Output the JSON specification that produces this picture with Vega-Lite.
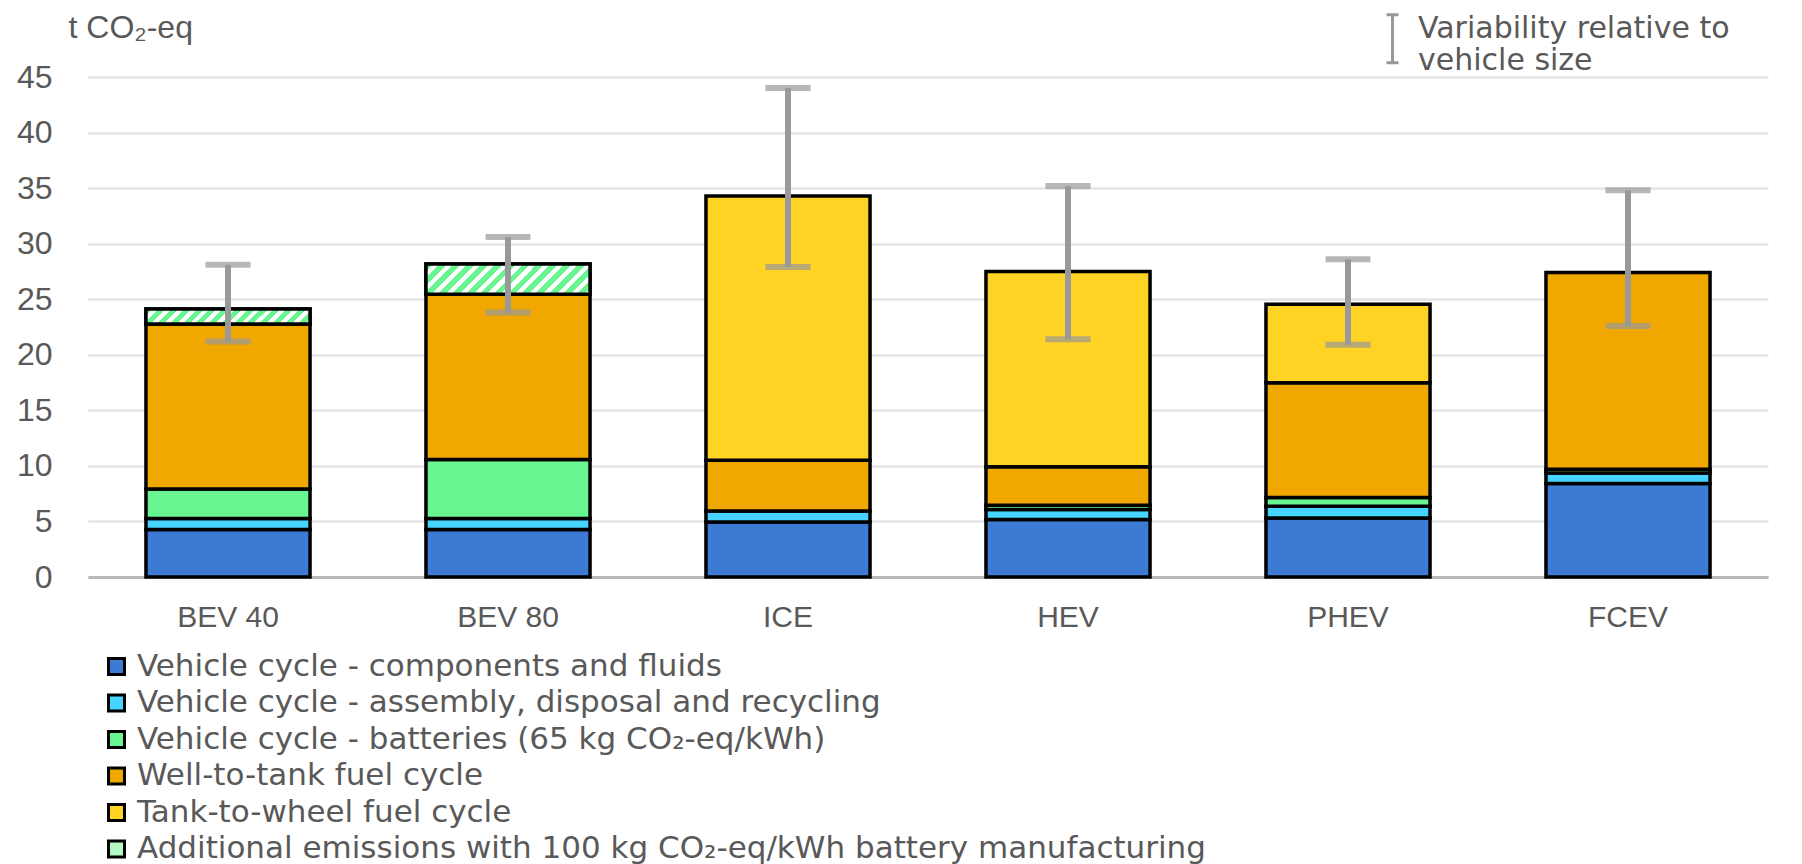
{
  "$schema": "https://vega.github.io/schema/vega-lite/v6.json",
  "width": 1680,
  "height": 500,
  "autosize": {"type": "none"},
  "padding": {"left": 88, "top": 77, "right": 34, "bottom": 287},
  "background": "#ffffff",
  "config": {
    "view": {"stroke": null},
    "font": "Liberation Sans"
  },
  "datasets": {
    "segments": [
      {"vehicle": "BEV 40", "component": "Vehicle cycle - components and fluids", "order": 1, "value": 4.27},
      {"vehicle": "BEV 40", "component": "Vehicle cycle - assembly, disposal and recycling", "order": 2, "value": 0.99},
      {"vehicle": "BEV 40", "component": "Vehicle cycle - batteries (65 kg CO₂-eq/kWh)", "order": 3, "value": 2.67},
      {"vehicle": "BEV 40", "component": "Well-to-tank fuel cycle", "order": 4, "value": 14.85},
      {"vehicle": "BEV 40", "component": "Additional emissions with 100 kg CO₂-eq/kWh battery manufacturing", "order": 6, "value": 1.35},
      {"vehicle": "BEV 80", "component": "Vehicle cycle - components and fluids", "order": 1, "value": 4.27},
      {"vehicle": "BEV 80", "component": "Vehicle cycle - assembly, disposal and recycling", "order": 2, "value": 0.99},
      {"vehicle": "BEV 80", "component": "Vehicle cycle - batteries (65 kg CO₂-eq/kWh)", "order": 3, "value": 5.32},
      {"vehicle": "BEV 80", "component": "Well-to-tank fuel cycle", "order": 4, "value": 14.87},
      {"vehicle": "BEV 80", "component": "Additional emissions with 100 kg CO₂-eq/kWh battery manufacturing", "order": 6, "value": 2.71},
      {"vehicle": "ICE", "component": "Vehicle cycle - components and fluids", "order": 1, "value": 4.96},
      {"vehicle": "ICE", "component": "Vehicle cycle - assembly, disposal and recycling", "order": 2, "value": 0.99},
      {"vehicle": "ICE", "component": "Well-to-tank fuel cycle", "order": 4, "value": 4.55},
      {"vehicle": "ICE", "component": "Tank-to-wheel fuel cycle", "order": 5, "value": 23.8},
      {"vehicle": "HEV", "component": "Vehicle cycle - components and fluids", "order": 1, "value": 5.17},
      {"vehicle": "HEV", "component": "Vehicle cycle - assembly, disposal and recycling", "order": 2, "value": 0.9},
      {"vehicle": "HEV", "component": "Vehicle cycle - batteries (65 kg CO₂-eq/kWh)", "order": 3, "value": 0.39},
      {"vehicle": "HEV", "component": "Well-to-tank fuel cycle", "order": 4, "value": 3.46},
      {"vehicle": "HEV", "component": "Tank-to-wheel fuel cycle", "order": 5, "value": 17.58},
      {"vehicle": "PHEV", "component": "Vehicle cycle - components and fluids", "order": 1, "value": 5.32},
      {"vehicle": "PHEV", "component": "Vehicle cycle - assembly, disposal and recycling", "order": 2, "value": 1.05},
      {"vehicle": "PHEV", "component": "Vehicle cycle - batteries (65 kg CO₂-eq/kWh)", "order": 3, "value": 0.78},
      {"vehicle": "PHEV", "component": "Well-to-tank fuel cycle", "order": 4, "value": 10.34},
      {"vehicle": "PHEV", "component": "Tank-to-wheel fuel cycle", "order": 5, "value": 7.06},
      {"vehicle": "FCEV", "component": "Vehicle cycle - components and fluids", "order": 1, "value": 8.41},
      {"vehicle": "FCEV", "component": "Vehicle cycle - assembly, disposal and recycling", "order": 2, "value": 0.96},
      {"vehicle": "FCEV", "component": "Vehicle cycle - batteries (65 kg CO₂-eq/kWh)", "order": 3, "value": 0.33},
      {"vehicle": "FCEV", "component": "Well-to-tank fuel cycle", "order": 4, "value": 17.7}
    ],
    "errors": [
      {"vehicle": "BEV 40", "low": 21.2, "high": 28.1},
      {"vehicle": "BEV 80", "low": 23.8, "high": 30.6},
      {"vehicle": "ICE", "low": 27.9, "high": 44.0},
      {"vehicle": "HEV", "low": 21.4, "high": 35.2},
      {"vehicle": "PHEV", "low": 20.9, "high": 28.6},
      {"vehicle": "FCEV", "low": 22.6, "high": 34.8}
    ]
  },
  "layer": [
    {
      "data": {"name": "segments"},
      "transform": [
        {"stack": "value", "groupby": ["vehicle"], "sort": [{"field": "order", "order": "ascending"}], "as": ["y0", "y1"]}
      ],
      "mark": {"type": "bar", "stroke": "#000000", "strokeWidth": 3.5},
      "encoding": {
        "x": {
          "field": "vehicle", "type": "nominal",
          "sort": ["BEV 40", "BEV 80", "ICE", "HEV", "PHEV", "FCEV"],
          "scale": {"domain": ["BEV 40", "BEV 80", "ICE", "HEV", "PHEV", "FCEV"], "paddingInner": 0.414, "paddingOuter": 0.207},
          "axis": {
            "title": null, "labelAngle": 0, "ticks": false, "tickSize": 0,
            "labelPadding": 40, "labelBaseline": "middle",
            "labelFont": "Liberation Sans Narrow, Liberation Sans", "labelFontSize": 30, "labelColor": "#595959",
            "domainColor": "#b8b8b8", "domainWidth": 3, "grid": false
          }
        },
        "y": {
          "field": "y0", "type": "quantitative",
          "scale": {"domain": [0, 45], "nice": false},
          "axis": {
            "values": [0, 5, 10, 15, 20, 25, 30, 35, 40, 45],
            "domain": false, "ticks": false, "tickSize": 0, "labelPadding": 36,
            "labelFont": "Liberation Sans", "labelFontSize": 32, "labelColor": "#595959",
            "gridColor": "#e4e4e4", "gridWidth": 2.5,
            "title": "t CO₂-eq", "titleAngle": 0, "titleAlign": "left", "titleBaseline": "alphabetic",
            "titleX": -20, "titleY": -40, "titleFont": "Liberation Sans", "titleFontSize": 32,
            "titleFontWeight": "normal", "titleColor": "#595959"
          }
        },
        "y2": {"field": "y1"},
        "color": {
          "field": "component", "type": "nominal",
          "scale": {
            "domain": [
              "Vehicle cycle - components and fluids",
              "Vehicle cycle - assembly, disposal and recycling",
              "Vehicle cycle - batteries (65 kg CO₂-eq/kWh)",
              "Well-to-tank fuel cycle",
              "Tank-to-wheel fuel cycle",
              "Additional emissions with 100 kg CO₂-eq/kWh battery manufacturing"
            ],
            "range": ["#3D7AD4", "#47D3FF", "#6AF593", "#F0A800", "#FFD324", "#B2F9C6"]
          },
          "legend": {
            "title": null, "orient": "none", "legendX": 13, "legendY": 574, "padding": 0,
            "direction": "vertical", "symbolType": "square", "symbolSize": 256,
            "symbolStrokeColor": "#000000", "symbolStrokeWidth": 3, "symbolOpacity": 1,
            "labelFont": "DejaVu Sans", "labelFontSize": 31, "labelColor": "#595959",
            "labelOffset": 5, "labelLimit": 2000, "rowPadding": 4.5
          }
        }
      }
    },
    {
      "data": {"name": "segments"},
      "transform": [
        {"stack": "value", "groupby": ["vehicle"], "sort": [{"field": "order", "order": "ascending"}], "as": ["y0", "y1"]},
        {"filter": "datum.order == 6 && datum.vehicle == 'BEV 40'"}
      ],
      "mark": {
        "type": "bar", "stroke": "#000000", "strokeWidth": 3.5,
        "fill": {
          "gradient": "linear", "x1": 0, "y1": 0, "x2": 1.0824, "y2": 0.099,
          "stops": [
            {"offset": 0, "color": "#6AF593"}, {"offset": 0.0393, "color": "#6AF593"}, {"offset": 0.0393, "color": "#ffffff"}, {"offset": 0.0714, "color": "#ffffff"},
            {"offset": 0.0714, "color": "#6AF593"}, {"offset": 0.1107, "color": "#6AF593"}, {"offset": 0.1107, "color": "#ffffff"}, {"offset": 0.1429, "color": "#ffffff"},
            {"offset": 0.1429, "color": "#6AF593"}, {"offset": 0.1821, "color": "#6AF593"}, {"offset": 0.1821, "color": "#ffffff"}, {"offset": 0.2143, "color": "#ffffff"},
            {"offset": 0.2143, "color": "#6AF593"}, {"offset": 0.2536, "color": "#6AF593"}, {"offset": 0.2536, "color": "#ffffff"}, {"offset": 0.2857, "color": "#ffffff"},
            {"offset": 0.2857, "color": "#6AF593"}, {"offset": 0.325, "color": "#6AF593"}, {"offset": 0.325, "color": "#ffffff"}, {"offset": 0.3571, "color": "#ffffff"},
            {"offset": 0.3571, "color": "#6AF593"}, {"offset": 0.3964, "color": "#6AF593"}, {"offset": 0.3964, "color": "#ffffff"}, {"offset": 0.4286, "color": "#ffffff"},
            {"offset": 0.4286, "color": "#6AF593"}, {"offset": 0.4679, "color": "#6AF593"}, {"offset": 0.4679, "color": "#ffffff"}, {"offset": 0.5, "color": "#ffffff"},
            {"offset": 0.5, "color": "#6AF593"}, {"offset": 0.5393, "color": "#6AF593"}, {"offset": 0.5393, "color": "#ffffff"}, {"offset": 0.5714, "color": "#ffffff"},
            {"offset": 0.5714, "color": "#6AF593"}, {"offset": 0.6107, "color": "#6AF593"}, {"offset": 0.6107, "color": "#ffffff"}, {"offset": 0.6429, "color": "#ffffff"},
            {"offset": 0.6429, "color": "#6AF593"}, {"offset": 0.6821, "color": "#6AF593"}, {"offset": 0.6821, "color": "#ffffff"}, {"offset": 0.7143, "color": "#ffffff"},
            {"offset": 0.7143, "color": "#6AF593"}, {"offset": 0.7536, "color": "#6AF593"}, {"offset": 0.7536, "color": "#ffffff"}, {"offset": 0.7857, "color": "#ffffff"},
            {"offset": 0.7857, "color": "#6AF593"}, {"offset": 0.825, "color": "#6AF593"}, {"offset": 0.825, "color": "#ffffff"}, {"offset": 0.8571, "color": "#ffffff"},
            {"offset": 0.8571, "color": "#6AF593"}, {"offset": 0.8964, "color": "#6AF593"}, {"offset": 0.8964, "color": "#ffffff"}, {"offset": 0.9286, "color": "#ffffff"},
            {"offset": 0.9286, "color": "#6AF593"}, {"offset": 0.9679, "color": "#6AF593"}, {"offset": 0.9679, "color": "#ffffff"}, {"offset": 1, "color": "#ffffff"}
          ]
        }
      },
      "encoding": {
        "x": {"field": "vehicle", "type": "nominal", "sort": ["BEV 40", "BEV 80", "ICE", "HEV", "PHEV", "FCEV"]},
        "y": {"field": "y0", "type": "quantitative"},
        "y2": {"field": "y1"}
      }
    },
    {
      "data": {"name": "segments"},
      "transform": [
        {"stack": "value", "groupby": ["vehicle"], "sort": [{"field": "order", "order": "ascending"}], "as": ["y0", "y1"]},
        {"filter": "datum.order == 6 && datum.vehicle == 'BEV 80'"}
      ],
      "mark": {
        "type": "bar", "stroke": "#000000", "strokeWidth": 3.5,
        "fill": {
          "gradient": "linear", "x1": 0, "y1": 0, "x2": 1.1447, "y2": 0.2095,
          "stops": [
            {"offset": 0, "color": "#6AF593"}, {"offset": 0.0393, "color": "#6AF593"}, {"offset": 0.0393, "color": "#ffffff"}, {"offset": 0.0714, "color": "#ffffff"},
            {"offset": 0.0714, "color": "#6AF593"}, {"offset": 0.1107, "color": "#6AF593"}, {"offset": 0.1107, "color": "#ffffff"}, {"offset": 0.1429, "color": "#ffffff"},
            {"offset": 0.1429, "color": "#6AF593"}, {"offset": 0.1821, "color": "#6AF593"}, {"offset": 0.1821, "color": "#ffffff"}, {"offset": 0.2143, "color": "#ffffff"},
            {"offset": 0.2143, "color": "#6AF593"}, {"offset": 0.2536, "color": "#6AF593"}, {"offset": 0.2536, "color": "#ffffff"}, {"offset": 0.2857, "color": "#ffffff"},
            {"offset": 0.2857, "color": "#6AF593"}, {"offset": 0.325, "color": "#6AF593"}, {"offset": 0.325, "color": "#ffffff"}, {"offset": 0.3571, "color": "#ffffff"},
            {"offset": 0.3571, "color": "#6AF593"}, {"offset": 0.3964, "color": "#6AF593"}, {"offset": 0.3964, "color": "#ffffff"}, {"offset": 0.4286, "color": "#ffffff"},
            {"offset": 0.4286, "color": "#6AF593"}, {"offset": 0.4679, "color": "#6AF593"}, {"offset": 0.4679, "color": "#ffffff"}, {"offset": 0.5, "color": "#ffffff"},
            {"offset": 0.5, "color": "#6AF593"}, {"offset": 0.5393, "color": "#6AF593"}, {"offset": 0.5393, "color": "#ffffff"}, {"offset": 0.5714, "color": "#ffffff"},
            {"offset": 0.5714, "color": "#6AF593"}, {"offset": 0.6107, "color": "#6AF593"}, {"offset": 0.6107, "color": "#ffffff"}, {"offset": 0.6429, "color": "#ffffff"},
            {"offset": 0.6429, "color": "#6AF593"}, {"offset": 0.6821, "color": "#6AF593"}, {"offset": 0.6821, "color": "#ffffff"}, {"offset": 0.7143, "color": "#ffffff"},
            {"offset": 0.7143, "color": "#6AF593"}, {"offset": 0.7536, "color": "#6AF593"}, {"offset": 0.7536, "color": "#ffffff"}, {"offset": 0.7857, "color": "#ffffff"},
            {"offset": 0.7857, "color": "#6AF593"}, {"offset": 0.825, "color": "#6AF593"}, {"offset": 0.825, "color": "#ffffff"}, {"offset": 0.8571, "color": "#ffffff"},
            {"offset": 0.8571, "color": "#6AF593"}, {"offset": 0.8964, "color": "#6AF593"}, {"offset": 0.8964, "color": "#ffffff"}, {"offset": 0.9286, "color": "#ffffff"},
            {"offset": 0.9286, "color": "#6AF593"}, {"offset": 0.9679, "color": "#6AF593"}, {"offset": 0.9679, "color": "#ffffff"}, {"offset": 1, "color": "#ffffff"}
          ]
        }
      },
      "encoding": {
        "x": {"field": "vehicle", "type": "nominal", "sort": ["BEV 40", "BEV 80", "ICE", "HEV", "PHEV", "FCEV"]},
        "y": {"field": "y0", "type": "quantitative"},
        "y2": {"field": "y1"}
      }
    },
    {
      "data": {"name": "errors"},
      "mark": {"type": "rule", "strokeWidth": 6},
      "encoding": {
        "x": {"field": "vehicle", "type": "nominal", "sort": ["BEV 40", "BEV 80", "ICE", "HEV", "PHEV", "FCEV"]},
        "y": {"field": "low", "type": "quantitative"},
        "y2": {"field": "high"},
        "color": {
          "datum": "Variability relative to vehicle size",
          "scale": {"range": ["#999999"]},
          "legend": {
            "title": null, "orient": "none", "legendX": 1279, "legendY": -74, "padding": 0,
            "symbolType": "M-0.25,-0.57H0.25M0,-0.57V1.43M-0.25,1.43H0.25", "symbolSize": 2304,
            "symbolStrokeWidth": 3, "symbolStrokeColor": "#bbbbbb",
            "labelExpr": "['Variability relative to', 'vehicle size']",
            "labelFont": "DejaVu Sans", "labelFontSize": 30, "labelColor": "#595959",
            "labelOffset": 0, "labelLimit": 2000
          }
        }
      }
    },
    {
      "data": {"name": "errors"},
      "mark": {"type": "tick", "size": 45, "thickness": 6, "color": "#999999"},
      "encoding": {
        "x": {"field": "vehicle", "type": "nominal", "sort": ["BEV 40", "BEV 80", "ICE", "HEV", "PHEV", "FCEV"]},
        "y": {"field": "low", "type": "quantitative"}
      }
    },
    {
      "data": {"name": "errors"},
      "mark": {"type": "tick", "size": 45, "thickness": 6, "color": "#999999"},
      "encoding": {
        "x": {"field": "vehicle", "type": "nominal", "sort": ["BEV 40", "BEV 80", "ICE", "HEV", "PHEV", "FCEV"]},
        "y": {"field": "high", "type": "quantitative"}
      }
    }
  ],
  "resolve": {"scale": {"color": "independent"}, "legend": {"color": "independent"}}
}
